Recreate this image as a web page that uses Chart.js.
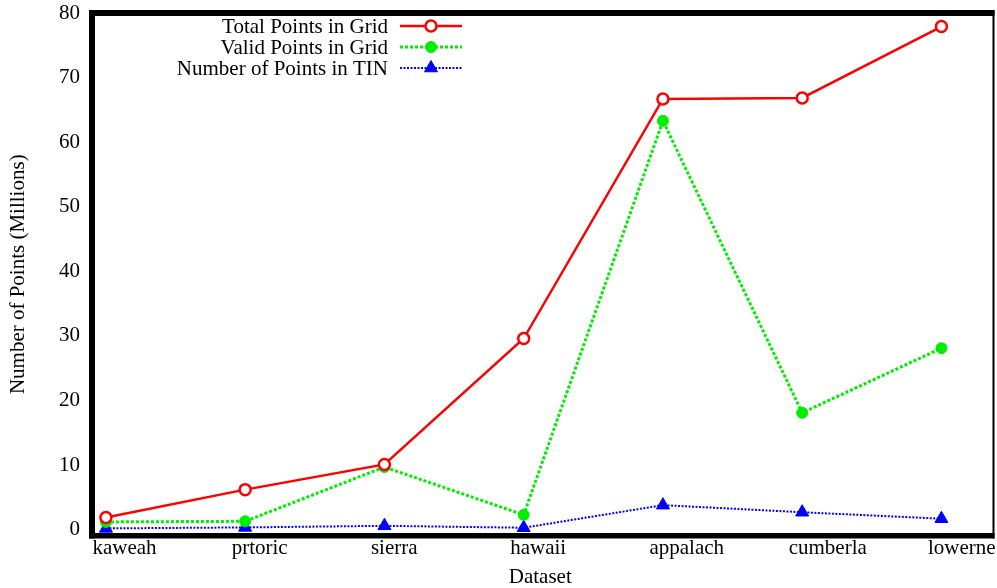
<!DOCTYPE html>
<html>
<head>
<meta charset="utf-8">
<script src="https://cdn.jsdelivr.net/npm/chart.js@4/dist/chart.umd.min.js"></script>
<style>
  html, body { margin: 0; padding: 0; background: #fff; }
  #wrap { width: 997px; height: 588px; }
</style>
</head>
<body>
<div id="wrap"><canvas id="c" width="997" height="588"></canvas></div>
<script>
// Dataset names shown along the x axis
const datasets = ['kaweah', 'prtoric', 'sierra', 'hawaii', 'appalach', 'cumberla', 'lowerne'];
// Point counts in millions
const totalGrid = [1.9, 6.2, 10.1, 29.6, 66.7, 66.85, 77.9];
const validGrid = [1.2, 1.3, 9.7, 2.3, 63.3, 18.1, 28.1];
const tinPoints = [0.2, 0.35, 0.6, 0.3, 3.8, 2.7, 1.7];
const yTicks = [0, 10, 20, 30, 40, 50, 60, 70, 80];

const FONT = 'Liberation Serif, Times New Roman, serif';
const FS = 21;
const RIGHT_EDGE_GAP = 5; // right frame edge sits a little past the plotting area
const toXY = vals => vals.map((v, i) => ({ x: i, y: v }));

// gnuplot-style frame: heavy left/top/bottom edges, thin right edge
const framePlugin = {
  id: 'frame',
  afterDatasetsDraw(chart) {
    const { ctx, chartArea: a } = chart;
    const r = a.right + RIGHT_EDGE_GAP;
    ctx.save();
    ctx.fillStyle = '#000';
    ctx.fillRect(a.left - 3, a.top - 3, 6, a.bottom - a.top + 6);
    ctx.fillRect(a.left - 3, a.top - 3, r - a.left + 4, 6);
    ctx.fillRect(a.left - 3, a.bottom - 2.5, r - a.left + 4, 5.5);
    ctx.fillRect(r - 1, a.top - 3, 2, a.bottom - a.top + 6);
    ctx.restore();
  }
};

// Category names under the x axis, left-aligned a little before each tick (gnuplot placement)
const xLabelPlugin = {
  id: 'xlabels',
  afterDraw(chart) {
    const { ctx, chartArea: a } = chart;
    const sx = chart.scales.x;
    ctx.save();
    ctx.font = FS + 'px ' + FONT;
    ctx.fillStyle = '#000';
    ctx.textAlign = 'left';
    ctx.textBaseline = 'alphabetic';
    datasets.forEach((name, i) => {
      ctx.fillText(name, sx.getPixelForValue(i) - 13.5, a.bottom + 18);
    });
    ctx.restore();
  }
};

// Key in the upper left: text right-aligned, followed by a line sample with marker
const keyPlugin = {
  id: 'key',
  afterDraw(chart) {
    const { ctx } = chart;
    const textRight = 388, x0 = 400, x1 = 462, y0 = 26, dy = 21;
    ctx.save();
    chart.data.datasets.forEach((ds, i) => {
      const y = y0 + i * dy;
      ctx.font = FS + 'px ' + FONT;
      ctx.fillStyle = '#000';
      ctx.textAlign = 'right';
      ctx.textBaseline = 'middle';
      ctx.fillText(ds.label, textRight, y + 1);
      ctx.strokeStyle = ds.borderColor;
      ctx.lineWidth = ds.borderWidth;
      ctx.setLineDash(ds.borderDash || []);
      ctx.beginPath();
      ctx.moveTo(x0, y);
      ctx.lineTo(x1, y);
      ctx.stroke();
      ctx.setLineDash([]);
      ctx.fillStyle = ds.pointBackgroundColor;
      ctx.strokeStyle = ds.pointBorderColor;
      ctx.lineWidth = ds.pointBorderWidth;
      Chart.helpers.drawPoint(ctx, {
        pointStyle: ds.pointStyle, radius: ds.pointRadius, rotation: 0, borderWidth: ds.pointBorderWidth
      }, (x0 + x1) / 2, y);
    });
    ctx.restore();
  }
};

const noPad = s => { s.paddingTop = 0; s.paddingBottom = 0; s.paddingLeft = 0; s.paddingRight = 0; };

new Chart(document.getElementById('c'), {
  type: 'line',
  data: {
    datasets: [
      {
        label: 'Total Points in Grid',
        data: toXY(totalGrid),
        borderColor: '#ff0000',
        borderWidth: 2.5,
        pointStyle: 'circle',
        pointRadius: 5.5,
        pointBorderWidth: 2.5,
        pointBackgroundColor: '#ffffff',
        pointBorderColor: '#ff0000',
        clip: false
      },
      {
        label: 'Valid Points in Grid',
        data: toXY(validGrid),
        borderColor: '#00ee00',
        borderWidth: 3,
        borderDash: [3, 2],
        pointStyle: 'circle',
        pointRadius: 5.5,
        pointBorderWidth: 1,
        pointBackgroundColor: '#00ee00',
        pointBorderColor: '#00ee00',
        clip: false
      },
      {
        label: 'Number of Points in TIN',
        data: toXY(tinPoints),
        borderColor: '#0000ff',
        borderWidth: 2,
        borderDash: [2, 1.5],
        pointStyle: 'triangle',
        pointRadius: 7.5,
        pointBorderWidth: 1,
        pointBackgroundColor: '#0000ff',
        pointBorderColor: '#0000ff',
        clip: false
      }
    ]
  },
  options: {
    responsive: false,
    animation: false,
    layout: { padding: { top: 13, right: 4, left: 0, bottom: 0 } },
    plugins: { legend: { display: false }, tooltip: { enabled: false } },
    elements: { line: { tension: 0 } },
    scales: {
      x: {
        type: 'linear',
        min: -0.1,
        max: 6.338,
        grid: { display: false, drawTicks: false },
        border: { display: false },
        afterBuildTicks: s => { s.ticks = datasets.map((_, i) => ({ value: i })); },
        afterFit: s => { s.height = 52.5; noPad(s); },
        ticks: { display: false },
        title: {
          display: true,
          text: 'Dataset',
          color: '#000',
          font: { family: FONT, size: FS },
          padding: { top: 0, bottom: -2 }
        }
      },
      y: {
        min: -0.9,
        max: 80,
        grid: { display: false, drawTicks: false },
        border: { display: false },
        afterBuildTicks: s => { s.ticks = yTicks.map(v => ({ value: v })); },
        afterFit: s => { s.width = 92; noPad(s); },
        ticks: {
          padding: 12,
          color: '#000',
          font: { family: FONT, size: FS }
        },
        title: {
          display: true,
          text: 'Number of Points (Millions)',
          color: '#000',
          font: { family: FONT, size: FS },
          padding: { top: 6, bottom: 0 }
        }
      }
    }
  },
  plugins: [framePlugin, xLabelPlugin, keyPlugin]
});
</script>
</body>
</html>
